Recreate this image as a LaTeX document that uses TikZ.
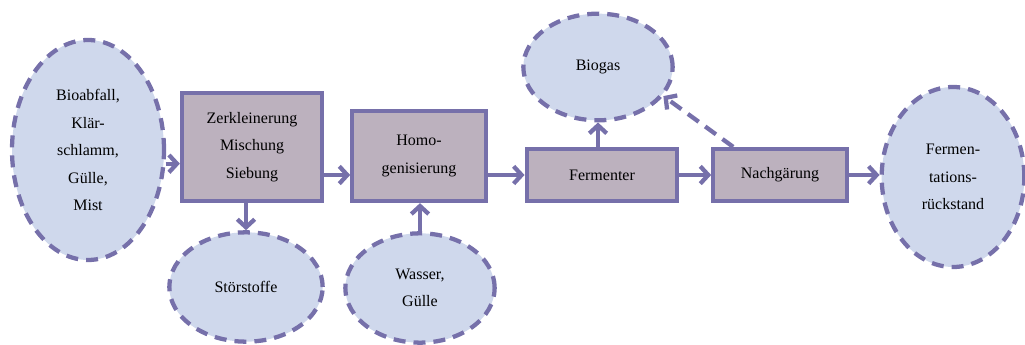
\documentclass[tikz,border=0pt]{standalone}
\usepackage{fontspec}
\setmainfont{Liberation Serif}
\usetikzlibrary{shapes.geometric,arrows.meta}
\definecolor{edgeblue}{RGB}{118,112,170}
\definecolor{blobfill}{RGB}{207,216,236}
\definecolor{boxfill}{RGB}{188,177,190}
\tikzset{
  blob/.style={ellipse, draw=edgeblue, fill=blobfill, line width=3.2pt,
    dash pattern=on 9pt off 6pt, inner sep=0pt, align=center,
    font=\fontsize{12}{20.6}\selectfont},
  stepbox/.style={rectangle, draw=edgeblue, fill=boxfill, line width=3.2pt,
    inner sep=0pt, align=center, font=\fontsize{12}{20.6}\selectfont},
  flow/.style={draw=edgeblue, line width=3.2pt,
    -{Straight Barb[length=6pt,width=13pt,line width=3.2pt]}}
}
\begin{document}
\begin{tikzpicture}[x=0.75pt,y=-0.75pt]
    \useasboundingbox (0,0) rectangle (1025,345);

    % Inputs and outputs
    \node[blob, minimum width=114pt, minimum height=165pt] (bio) at (88,150)
        {Bioabfall,\\Klär-\\schlamm,\\Gülle,\\Mist};
    \node[blob, minimum width=115pt, minimum height=82pt] (stoer) at (246,287) {Störstoffe};
    \node[blob, minimum width=112pt, minimum height=82pt] (wasser) at (420,288) {Wasser,\\Gülle};
    \node[blob, minimum width=112pt, minimum height=80pt] (biogas) at (598,67) {Biogas};
    \node[blob, minimum width=107pt, minimum height=135pt] (rueck) at (953,177)
        {Fermen-\\tations-\\rückstand};

    % Process steps
    \node[stepbox, minimum width=105pt, minimum height=81pt] (zerk) at (252,147)
        {Zerkleinerung\\Mischung\\Siebung};
    \node[stepbox, minimum width=100pt, minimum height=67.5pt] (homo) at (419,156)
        {Homo-\\genisierung};
    \node[stepbox, minimum width=113pt, minimum height=39pt] (ferm) at (602,175) {Fermenter};
    \node[stepbox, minimum width=100pt, minimum height=39pt] (nach) at (780,175) {Nachgärung};

    % Connectors
    \draw[flow] (bio.-10) -- (bio.-10 -| zerk.west);
    \draw[flow] (stoer.north |- zerk.south) -- (stoer.north);
    \draw[flow] ([yshift=-21pt]zerk.east) -- ([yshift=-21pt]zerk.east -| homo.west);
    \draw[flow] (wasser.north) -- (wasser.north |- homo.south);
    \draw[flow] (homo.east |- ferm.west) -- (ferm.west);
    \draw[flow] (biogas.south |- ferm.north) -- (biogas.south);
    \draw[flow] (ferm.east) -- (nach.west);
    \draw[flow, dash pattern=on 10pt off 6pt] ([xshift=16.5pt]nach.north west) -- (biogas.-24);
    \draw[flow] (nach.east) -- (nach.east -| rueck.west);
\end{tikzpicture}
\end{document}
